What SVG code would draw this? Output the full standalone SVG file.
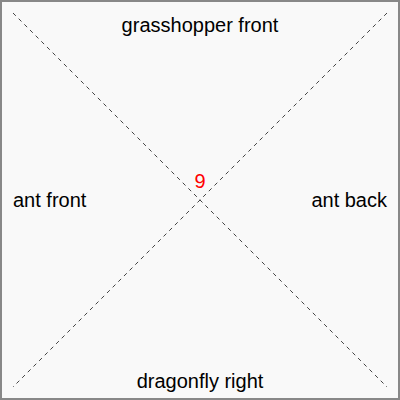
<svg xmlns="http://www.w3.org/2000/svg" width="400" height="400" viewBox="0 0 400 400">
<style>
text{font-family:"Liberation Sans",Arial,sans-serif;font-size:20px;fill:#000}
.d{stroke:#444;stroke-width:1;stroke-dasharray:4,4;fill:none}
</style>
<rect x="1" y="1" width="398" height="398" fill="#f9f9f9" stroke="#888" stroke-width="2"/>
<g id="connectors">
<line class="d" x1="13" y1="13" x2="387" y2="387"/>
<line class="d" x1="387" y1="13" x2="13" y2="387"/>
</g>
<g id="top"><text x="200" y="32" text-anchor="middle">grasshopper front</text></g>
<g id="left"><text x="13" y="207">ant front</text></g>
<g id="right"><text x="387" y="207" text-anchor="end">ant back</text></g>
<g id="bottom"><text x="200" y="388" text-anchor="middle">dragonfly right</text></g>
<g id="center"><text x="200" y="188" text-anchor="middle" style="fill:#f00">9</text></g>
</svg>
